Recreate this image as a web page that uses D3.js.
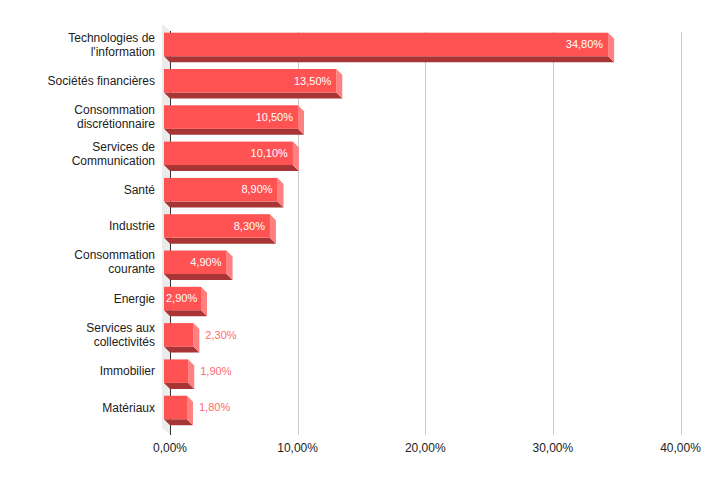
<!DOCTYPE html>
<html>
<head>
<meta charset="utf-8">
<script src="https://cdn.jsdelivr.net/npm/d3@7"></script>
<style>
  html, body { margin: 0; padding: 0; background: #fff; }
  svg { display: block; font-family: "Liberation Sans", Arial, sans-serif; }
</style>
</head>
<body>
<div id="chart"></div>
<script>
// Data
const categories = [
  'Technologies de\nl\'information',
  'Sociétés financières',
  'Consommation\ndiscrétionnaire',
  'Services de\nCommunication',
  'Santé',
  'Industrie',
  'Consommation\ncourante',
  'Energie',
  'Services aux\ncollectivités',
  'Immobilier',
  'Matériaux'
];
const values = [34.8, 13.5, 10.5, 10.1, 8.9, 8.3, 4.9, 2.9, 2.3, 1.9, 1.8];
const ticks = [0, 10, 20, 30, 40];

const width = 704, height = 479;
const depth = 6;
const fmt = v => v.toFixed(2).replace('.', ',') + '%';

const svg = d3.select('#chart').append('svg')
  .attr('width', width)
  .attr('height', height);

const x = d3.scaleLinear().domain([0, 40]).range([170, 680.5]);
const y = d3.scaleBand()
  .domain(categories)
  .range([26.3, 425.6])
  .paddingInner(0.353)
  .paddingOuter(0.176);

const plotTop = 32, plotBottom = 435;

// Left wall
svg.append('polygon')
  .attr('points', [[x(0) - 8, 24], [x(0), 31], [x(0), plotBottom - 1], [x(0) - 8, 428]].join(' '))
  .attr('fill', '#ebebeb');

// Gridlines
svg.append('g').selectAll('line')
  .data(ticks.filter(t => t > 0))
  .join('line')
  .attr('x1', d => Math.round(x(d)) + 0.5)
  .attr('x2', d => Math.round(x(d)) + 0.5)
  .attr('y1', plotTop)
  .attr('y2', plotBottom)
  .attr('stroke', '#cccccc')
  .attr('stroke-width', 1);

// Axis line
svg.append('line')
  .attr('x1', x(0) + 0.5).attr('x2', x(0) + 0.5)
  .attr('y1', 31).attr('y2', plotBottom)
  .attr('stroke', '#333')
  .attr('stroke-width', 1);

// Tick labels
svg.append('g').selectAll('text')
  .data(ticks)
  .join('text')
  .attr('x', d => x(d))
  .attr('y', 452)
  .attr('text-anchor', 'middle')
  .attr('font-size', 12)
  .attr('fill', '#222')
  .text(d => fmt(d));

// Bars
const rows = categories.map((c, i) => ({ c, v: values[i] }));
const bw = y.bandwidth();

const bars = svg.append('g').selectAll('g')
  .data(rows)
  .join('g');

bars.each(function(d) {
  const g = d3.select(this);
  const fl = x(0) - depth, fr = x(d.v) - depth;
  const t = y(d.c), b = t + bw;
  // bottom face
  g.append('polygon')
    .attr('points', [[fl, b], [fr, b], [fr + depth, b + depth], [fl + depth, b + depth]].join(' '))
    .attr('fill', '#a83535');
  // right side face
  g.append('polygon')
    .attr('points', [[fr, t], [fr + depth, t + depth], [fr + depth, b + depth], [fr, b]].join(' '))
    .attr('fill', '#ff8080');
  // front face
  g.append('rect')
    .attr('x', fl).attr('y', t)
    .attr('width', fr - fl).attr('height', bw)
    .attr('fill', '#ff5252');

  // value label
  const lbl = g.append('text')
    .attr('y', t + bw / 2)
    .attr('dy', '0.35em')
    .attr('font-size', 11)
    .text(fmt(d.v));
  const tw = lbl.node().getComputedTextLength();
  if (tw + 3 <= fr - fl) {
    lbl.attr('x', Math.max(fr - 5, fl + 2 + tw))
      .attr('text-anchor', 'end')
      .attr('fill', '#fff');
  } else {
    lbl.attr('x', fr + depth + 6)
      .attr('text-anchor', 'start')
      .attr('fill', '#ff6b6b');
  }
});

// Category labels
svg.append('g').selectAll('text')
  .data(categories)
  .join('text')
  .attr('x', 155)
  .attr('y', d => y(d) + bw / 2)
  .attr('text-anchor', 'end')
  .attr('font-size', 12)
  .attr('fill', '#222')
  .each(function(d) {
    const lines = d.split('\n');
    const el = d3.select(this);
    lines.forEach((ln, i) => {
      el.append('tspan')
        .attr('x', 155)
        .attr('dy', i === 0 ? (0.35 * 12 - (lines.length - 1) * 7) : 14)
        .text(ln);
    });
  });
</script>
</body>
</html>
